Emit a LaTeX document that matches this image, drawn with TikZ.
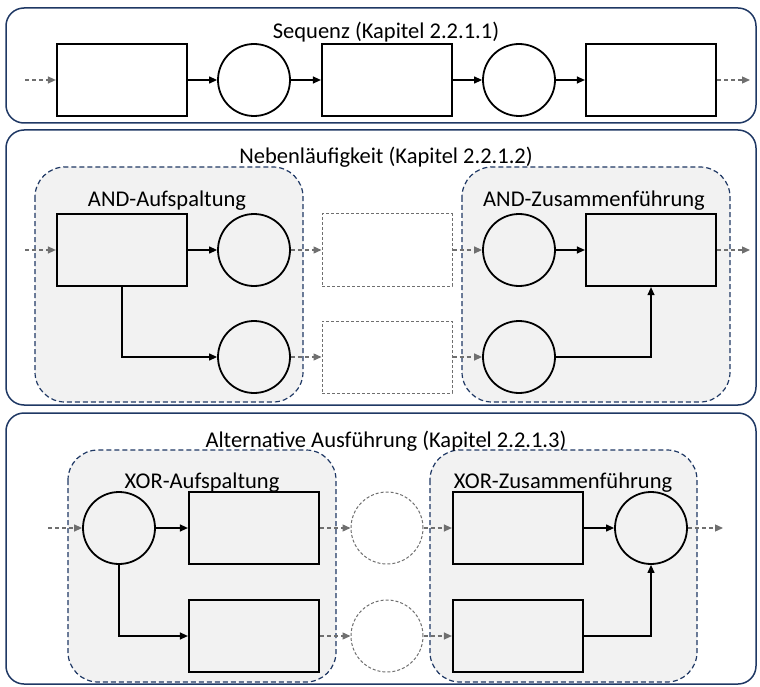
\documentclass[tikz,border=0pt]{standalone}
\usepackage{fontspec}
\setmainfont{Carlito}
\usetikzlibrary{arrows.meta}
\definecolor{navy}{HTML}{1F3864}
\definecolor{groupgray}{HTML}{F2F2F2}
\definecolor{ghost}{HTML}{6F6F6F}
\tikzset{
  panel/.style={draw=navy,line width=1.5pt,rounded corners=18pt},
  group/.style={draw=navy,line width=1.2pt,dash pattern=on 5pt off 3pt,fill=groupgray,rounded corners=30pt},
  task/.style={draw=black,line width=2.2pt,minimum width=130pt,minimum height=72pt,inner sep=0pt},
  event/.style={circle,draw=black,line width=1.8pt,minimum size=72pt,inner sep=0pt},
  ghosttask/.style={draw=ghost,line width=1pt,dash pattern=on 3pt off 2pt,minimum width=130pt,minimum height=72pt,inner sep=0pt},
  ghostevent/.style={circle,draw=ghost,line width=1pt,dash pattern=on 3pt off 2pt,minimum size=72pt,inner sep=0pt},
  flow/.style={black,line width=1.2pt,-{Triangle[length=8pt,width=7pt]}},
  ghostflow/.style={ghost,line width=1.3pt,dash pattern=on 4pt off 3pt,-{Triangle[length=8pt,width=7pt]}},
  label/.style={anchor=base,inner sep=0pt,font=\fontsize{22.5}{26}\selectfont}
}
\begin{document}
\begin{tikzpicture}[x=1pt,y=-1pt]
 \useasboundingbox (0,0) rectangle (760,687);
 % panels
 \draw[panel] (6,8) rectangle (756,123);
 \draw[panel] (6,130) rectangle (756,405);
 \draw[panel] (6,413) rectangle (756,684);
 % groups
 \draw[group] (35,167) rectangle (303,402);
 \draw[group] (462,167) rectangle (730,402);
 \draw[group] (68,450) rectangle (336,682);
 \draw[group] (430,450) rectangle (697,682);
 % titles
 \node[label] (seqtitle) at (386,39) {Sequenz (Kapitel 2.2.1.1)};
 \node[label] (partitle) at (386,164) {Nebenläufigkeit (Kapitel 2.2.1.2)};
 \node[label] (alttitle) at (386,447) {Alternative Ausführung (Kapitel 2.2.1.3)};
 \node[label] (andsplit) at (167,207) {AND-Aufspaltung};
 \node[label] (andjoin) at (594,207) {AND-Zusammenführung};
 \node[label] (xorsplit) at (202,488) {XOR-Aufspaltung};
 \node[label] (xorjoin) at (563,488) {XOR-Zusammenführung};

 % Sequenz
 \coordinate (seqin) at (25,80);
 \node[task] (s1) at (122,80) {};
 \node[event] (e1) at (254,80) {};
 \node[task] (s2) at (387,80) {};
 \node[event] (e2) at (519,80) {};
 \node[task] (s3) at (651,80) {};
 \coordinate (seqout) at (750,80);
 \draw[ghostflow] (seqin) -- (s1);
 \draw[flow] (s1) -- (e1);
 \draw[flow] (e1) -- (s2);
 \draw[flow] (s2) -- (e2);
 \draw[flow] (e2) -- (s3);
 \draw[ghostflow] (s3) -- (seqout);

 % Nebenlaeufigkeit
 \coordinate (parin) at (25,250);
 \node[task] (a1) at (122,250) {};
 \node[event] (ae1) at (254,250) {};
 \node[event] (ae2) at (254,357) {};
 \node[ghosttask] (g1) at (387,250) {};
 \node[ghosttask] (g2) at (387,357) {};
 \node[event] (be1) at (519,250) {};
 \node[event] (be2) at (519,357) {};
 \node[task] (b1) at (651,250) {};
 \coordinate (parout) at (750,250);
 \draw[ghostflow] (parin) -- (a1);
 \draw[flow] (a1) -- (ae1);
 \draw[flow] (a1.south) |- (ae2);
 \draw[ghostflow] (ae1) -- (g1);
 \draw[ghostflow] (ae2) -- (g2);
 \draw[ghostflow] (g1) -- (be1);
 \draw[ghostflow] (g2) -- (be2);
 \draw[flow] (be1) -- (b1);
 \draw[flow] (be2) -| (b1.south);
 \draw[ghostflow] (b1) -- (parout);

 % Alternative Ausfuehrung
 \coordinate (altin) at (48,528);
 \node[event] (x1) at (119,528) {};
 \node[task] (xt1) at (254,528) {};
 \node[task] (xt2) at (254,636) {};
 \node[ghostevent] (ge1) at (387,528) {};
 \node[ghostevent] (ge2) at (387,636) {};
 \node[task] (yt1) at (518,528) {};
 \node[task] (yt2) at (518,636) {};
 \node[event] (y1) at (651,528) {};
 \coordinate (altout) at (723,528);
 \draw[ghostflow] (altin) -- (x1);
 \draw[flow] (x1) -- (xt1);
 \draw[flow] (x1.south) |- (xt2);
 \draw[ghostflow] (xt1) -- (ge1);
 \draw[ghostflow] (xt2) -- (ge2);
 \draw[ghostflow] (ge1) -- (yt1);
 \draw[ghostflow] (ge2) -- (yt2);
 \draw[flow] (yt1) -- (y1);
 \draw[flow] (yt2) -| (y1.south);
 \draw[ghostflow] (y1) -- (altout);
\end{tikzpicture}
\end{document}
